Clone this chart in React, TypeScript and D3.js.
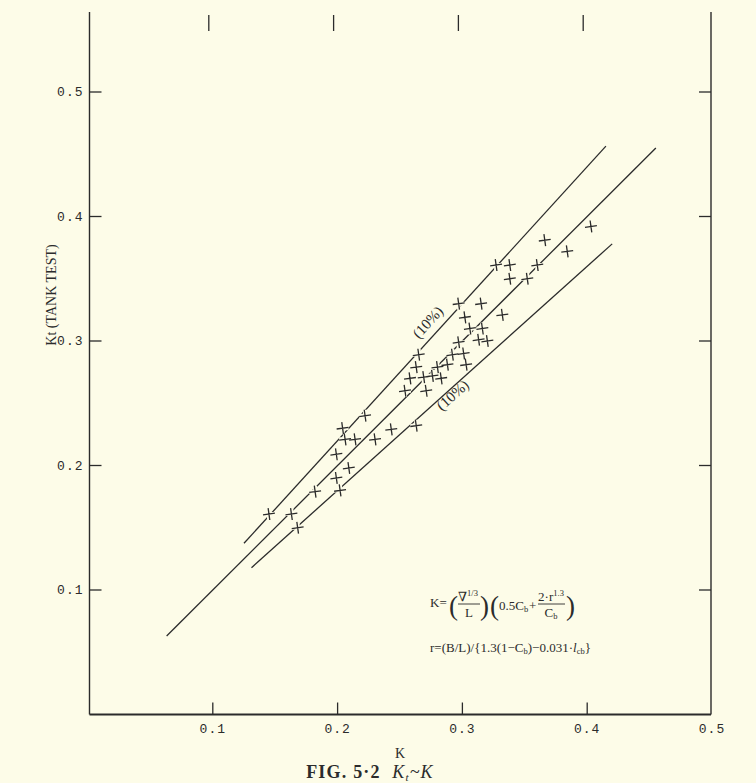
import React from "react";
import * as d3 from "d3";

// ---- data ----
const K_VALUES = [
  0.145, 0.163, 0.168, 0.182, 0.199, 0.202, 0.199, 0.204, 0.206, 0.209,
  0.214, 0.222, 0.230, 0.243, 0.254, 0.258, 0.263, 0.265, 0.263, 0.269,
  0.271, 0.276, 0.280, 0.283, 0.288, 0.292, 0.297, 0.297, 0.301, 0.302,
  0.303, 0.306, 0.313, 0.316, 0.315, 0.320, 0.332, 0.327, 0.338, 0.338,
  0.352, 0.360, 0.366, 0.384, 0.403,
];
const KT_VALUES = [
  0.161, 0.161, 0.150, 0.179, 0.190, 0.180, 0.209, 0.230, 0.221, 0.198,
  0.221, 0.240, 0.221, 0.229, 0.260, 0.270, 0.279, 0.289, 0.232, 0.271,
  0.260, 0.272, 0.279, 0.270, 0.281, 0.289, 0.299, 0.330, 0.290, 0.319,
  0.281, 0.310, 0.301, 0.310, 0.330, 0.300, 0.321, 0.361, 0.361, 0.350,
  0.350, 0.361, 0.381, 0.372, 0.392,
];
const FIT_RATIOS = [1.1, 1.0, 0.9];
const FIT_START = [0.125, 0.063, 0.131];
const FIT_END = [0.415, 0.455, 0.42];
const X_TICKS = [0.1, 0.2, 0.3, 0.4, 0.5];
const Y_TICKS = [0.1, 0.2, 0.3, 0.4, 0.5];
const BAND_LABEL = "(10%)";

const W = 756;
const H = 783;
const BG = "#fdfce8";
const INK = "#2b2b2b";
const SERIF = "'Liberation Serif', 'DejaVu Serif', serif";
const MONO = "'Liberation Mono', 'DejaVu Sans Mono', monospace";

export default function App() {
  const x = d3.scaleLinear().domain([0, 0.5]).range([88, 712]);
  const y = d3.scaleLinear().domain([0, 0.5]).range([714.5, 92]);
  const left = x(0) + 1.5;
  const right = x(0.5) - 1;
  const bottom = y(0);
  const top = 12;

  const line = d3
    .line<[number, number]>()
    .x((d) => x(d[0]))
    .y((d) => y(d[1]));

  const pts = K_VALUES.map((k, i) => [x(k), y(KT_VALUES[i])]);

  const labelFor = (ratio: number, k: number, off: number) => {
    const px = x(k);
    const py = y(ratio * k);
    const ang = (Math.atan2(y(ratio * 0.4) - y(ratio * 0.2), x(0.4) - x(0.2)) * 180) / Math.PI;
    return (
      <text
        transform={`translate(${px},${py}) rotate(${ang})`}
        dy={off}
        textAnchor="middle"
        fontFamily={SERIF}
        fontSize={15}
        fill={INK}
      >
        {BAND_LABEL}
      </text>
    );
  };

  const fx = 430;
  const fy = 607;
  const big = { fontFamily: SERIF, fontSize: 27, fill: INK, fontWeight: 300 } as const;
  const t = { fontFamily: SERIF, fontSize: 13, fill: INK } as const;
  const small = { fontFamily: SERIF, fontSize: 8.5, fill: INK } as const;

  return (
    <svg
      width={W}
      height={H}
      style={{ position: "absolute", left: 0, top: 0, display: "block" }}
    >
      <rect x={0} y={0} width={W} height={H} fill={BG} />

      {/* frame */}
      <line x1={left} y1={top} x2={left} y2={bottom} stroke={INK} strokeWidth={1.4} />
      <line x1={right} y1={top} x2={right} y2={bottom} stroke={INK} strokeWidth={1.4} />
      <line x1={left} y1={bottom} x2={right} y2={bottom} stroke={INK} strokeWidth={1.8} />

      {/* x ticks */}
      {X_TICKS.filter((v) => v < 0.5).map((v) => (
        <g key={"xt" + v}>
          <line x1={x(v)} x2={x(v)} y1={bottom} y2={bottom - 12} stroke={INK} strokeWidth={1.3} />
          <line x1={x(v) - 4} x2={x(v) - 4} y1={top + 3} y2={top + 19} stroke={INK} strokeWidth={1.3} />
        </g>
      ))}
      {X_TICKS.map((v) => (
        <text
          key={"xl" + v}
          x={x(v)}
          y={bottom + 18}
          textAnchor="middle"
          fontFamily={MONO}
          fontSize={13}
          letterSpacing={1}
          fill={INK}
        >
          {d3.format(".1f")(v)}
        </text>
      ))}

      {/* y ticks */}
      {Y_TICKS.map((v) => (
        <g key={"yt" + v}>
          <line x1={left} x2={left + 12} y1={y(v)} y2={y(v)} stroke={INK} strokeWidth={1.3} />
          <line x1={right} x2={right - 12} y1={y(v)} y2={y(v)} stroke={INK} strokeWidth={1.3} />
          <text
            x={left - 6}
            y={y(v) + 4}
            textAnchor="end"
            fontFamily={MONO}
            fontSize={13}
            letterSpacing={1}
            fill={INK}
          >
            {d3.format(".1f")(v)}
          </text>
        </g>
      ))}

      {/* fit lines */}
      {FIT_RATIOS.map((r, i) => (
        <path
          key={"fit" + i}
          d={line([
            [FIT_START[i], r * FIT_START[i]],
            [FIT_END[i], r * FIT_END[i]],
          ]) || ""}
          stroke={INK}
          strokeWidth={1.3}
          fill="none"
        />
      ))}

      {/* data crosses with paper halo */}
      {pts.map(([px, py], i) => (
        <g key={"p" + i} transform={`translate(${px},${py})`}>
          <path d="M-6,0H6M0,-6V6" stroke={BG} strokeWidth={4} />
        </g>
      ))}
      {pts.map(([px, py], i) => (
        <g key={"q" + i} transform={`translate(${px},${py}) rotate(-8)`}>
          <path d="M-6,0H6M0,-6V6" stroke={INK} strokeWidth={1.3} />
        </g>
      ))}

      {/* band labels */}
      {labelFor(1.1, 0.28, -8)}
      {labelFor(0.9, 0.289, 11)}

      {/* axis titles */}
      <text
        transform={`translate(56,295) rotate(-90)`}
        textAnchor="middle"
        fontFamily={SERIF}
        fontSize={14}
        fill={INK}
      >
        Kt (TANK TEST)
      </text>
      <text x={x(0.25)} y={bottom + 43} textAnchor="middle" fontFamily={SERIF} fontSize={14} fill={INK}>
        K
      </text>
      <text
        x={370}
        y={bottom + 63}
        textAnchor="middle"
        fontFamily={SERIF}
        fontSize={18}
        fontWeight="bold"
        letterSpacing={1.2}
        fill={INK}
      >
        FIG. 5·2{"\u00a0\u00a0"}
        <tspan fontStyle="italic" fontWeight="normal">K</tspan>
        <tspan fontStyle="italic" fontWeight="normal" fontSize={11} dy={3}>t</tspan>
        <tspan fontStyle="italic" fontWeight="normal" dy={-3}>~K</tspan>
      </text>

      {/* formula K */}
      <g>
        <text x={fx} y={fy} {...t}>K=</text>
        <text x={fx + 19} y={fy + 8} {...big}>(</text>
        <text x={fx + 38} y={fy - 6} {...t} textAnchor="middle">
          ∇<tspan {...small} dy={-5}>1/3</tspan>
        </text>
        <line x1={fx + 28} x2={fx + 50} y1={fy - 3} y2={fy - 3} stroke={INK} strokeWidth={0.9} />
        <text x={fx + 39} y={fy + 10} {...t} textAnchor="middle">L</text>
        <text x={fx + 50} y={fy + 8} {...big}>)</text>
        <text x={fx + 60} y={fy + 8} {...big}>(</text>
        <text x={fx + 69} y={fy + 3} {...t}>
          0.5C<tspan {...small} dy={2}>b</tspan>
        </text>
        <text x={fx + 99} y={fy + 3} {...t}>+</text>
        <text x={fx + 121} y={fy - 6} {...t} textAnchor="middle">
          2·r<tspan {...small} dy={-5}>1.3</tspan>
        </text>
        <line x1={fx + 108} x2={fx + 135} y1={fy - 3} y2={fy - 3} stroke={INK} strokeWidth={0.9} />
        <text x={fx + 121} y={fy + 10} {...t} textAnchor="middle">
          C<tspan {...small} dy={2}>b</tspan>
        </text>
        <text x={fx + 136} y={fy + 8} {...big}>)</text>
      </g>

      {/* formula r */}
      <text x={fx} y={fy + 45} {...t}>
        r=(B/L)/{"{"}1.3(1−C<tspan {...small} dy={2}>b</tspan>
        <tspan dy={-2}>)−0.031·</tspan>
        <tspan fontStyle="italic">l</tspan>
        <tspan {...small} dy={2}>cb</tspan>
        <tspan dy={-2}>{"}"}</tspan>
      </text>
    </svg>
  );
}
